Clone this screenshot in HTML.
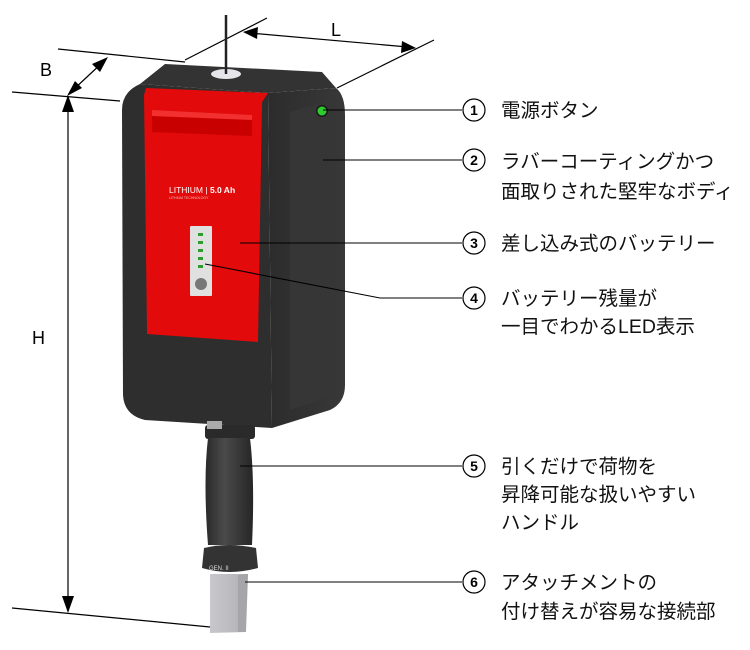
<!DOCTYPE html>
<html><head><meta charset="utf-8"><style>
html,body{margin:0;padding:0;background:#fff;}
svg{display:block}
text{font-family:"Liberation Sans","Noto Sans CJK JP",sans-serif;}
</style></head><body>
<svg width="750" height="650" viewBox="0 0 750 650" xmlns="http://www.w3.org/2000/svg">
<defs>
<linearGradient id="side" x1="0" x2="1"><stop offset="0" stop-color="#2c2c2c"/><stop offset="1" stop-color="#383838"/></linearGradient>
<linearGradient id="handle" x1="0" x2="1"><stop offset="0" stop-color="#2a2a2a"/><stop offset="0.4" stop-color="#4a4a4a"/><stop offset="1" stop-color="#262626"/></linearGradient>
<linearGradient id="conn" x1="0" x2="1"><stop offset="0" stop-color="#c8c8cc"/><stop offset="0.7" stop-color="#b8b8bc"/><stop offset="1" stop-color="#a0a0a4"/></linearGradient>
</defs>
<g stroke="#000" stroke-width="1.2" fill="none">
<line x1="58" y1="49" x2="185" y2="62"/>
<line x1="12" y1="92" x2="120" y2="101"/>
<line x1="185" y1="60" x2="267" y2="18"/>
<line x1="337" y1="88" x2="434" y2="40"/>
<line x1="12" y1="608" x2="210" y2="627"/>
<line x1="73" y1="90" x2="103" y2="62"/>
<line x1="250" y1="33" x2="408" y2="47"/>
<line x1="68" y1="112" x2="68" y2="598"/>
</g>
<g fill="#000">
<polygon points="68,95 62,112 74,112"/>
<polygon points="68,613 62,596 74,596"/>
<polygon points="67,96 75,81 82,88"/>
<polygon points="108,57 92,64 100,72"/>
<polygon points="243,32 258,27 257,39"/>
<polygon points="416,48 401,53 402,41"/>
</g>
<text x="40" y="76" font-size="18">B</text>
<text x="331" y="36" font-size="18">L</text>
<text x="32" y="344" font-size="18">H</text>
<polygon points="140,84 165,64 322,72 336,88 268,93" fill="#333"/>
<path d="M268,93 L336,88 Q345,95 345,115 L345,385 Q345,403 330,410 L272,428 Z" fill="url(#side)"/>
<path d="M140,84 L268,93 L272,428 L145,420 Q124,415 123,395 L122,110 Q122,92 140,84 Z" fill="#2e2e2e"/>
<path d="M290,112 L333,100 L333,395 L290,410 Z" fill="#363636"/>
<ellipse cx="226" cy="74" rx="15" ry="5" fill="#e6e6ea"/>
<line x1="226" y1="15" x2="226" y2="74" stroke="#222" stroke-width="2.5"/>
<polygon points="146,88 268,93 262,102 258,342 147,334 144,95" fill="#e20a0a"/>
<polygon points="152,110 252,115 252,136 152,132" fill="#c80000"/>
<polygon points="152,110 252,115 252,120 152,116" fill="#f23030"/>
<text x="169" y="193" font-size="8.5" fill="#fff">LITHIUM | <tspan font-weight="bold">5.0 Ah</tspan></text>
<text x="169" y="199" font-size="3.5" fill="#fbb">LITHIUM TECHNOLOGY</text>
<rect x="190" y="226" width="22" height="70" fill="#e0e0e0" rx="1"/>
<g fill="#2c9c2c"><rect x="198" y="233" width="5" height="3"/><rect x="198" y="241" width="5" height="3"/><rect x="198" y="249" width="5" height="3"/><rect x="198" y="257" width="5" height="3"/><rect x="198" y="265" width="5" height="3"/></g>
<circle cx="201" cy="284" r="6" fill="#777"/>
<circle cx="322" cy="111" r="6" fill="#1a1a1a"/>
<circle cx="322" cy="111" r="4.5" fill="#2ecc2e"/>
<rect x="205" y="425" width="50" height="14" rx="3" fill="#2a2a2a"/>
<rect x="207" y="421" width="15" height="8" fill="#aaa"/>
<path d="M208,438 L250,438 Q255,480 252,545 L208,545 Q203,480 208,438 Z" fill="url(#handle)"/>
<path d="M204,548 Q228,542 256,548 L258,568 Q230,576 202,568 Z" fill="#333"/>
<text x="209" y="570" font-size="6" fill="#ddd">GEN. II</text>
<polygon points="210,574 248,574 246,632 210,633" fill="url(#conn)"/>
<rect x="238" y="575" width="8" height="57" fill="#a6a6aa"/>
<g stroke="#000" stroke-width="1.1" fill="none">
<line x1="323" y1="110" x2="462" y2="110"/>
<line x1="323" y1="160" x2="462" y2="160"/>
<line x1="240" y1="243" x2="462" y2="243"/>
<polyline points="205,264 380,298 462,298"/>
<line x1="240" y1="466" x2="462" y2="466"/>
<line x1="245" y1="582" x2="462" y2="582"/>
</g>
<g stroke="#000" stroke-width="1.2" fill="#fff">
<circle cx="474" cy="110" r="11"/><circle cx="474" cy="160" r="11"/><circle cx="474" cy="243" r="11"/>
<circle cx="474" cy="298" r="11"/><circle cx="474" cy="466" r="11"/><circle cx="474" cy="582" r="11"/>
</g>
<g font-size="14" font-weight="bold" text-anchor="middle">
<text x="474" y="115">1</text><text x="474" y="165">2</text><text x="474" y="248">3</text>
<text x="474" y="303">4</text><text x="474" y="471">5</text><text x="474" y="587">6</text>
</g>
<g font-size="19.5" fill="#111">
<text x="501" y="117">電源ボタン</text>
<text x="501" y="168">ラバーコーティングかつ</text>
<text x="501" y="198">面取りされた堅牢なボディ</text>
<text x="501" y="250">差し込み式のバッテリー</text>
<text x="501" y="305">バッテリー残量が</text>
<text x="501" y="333">一目でわかるLED表示</text>
<text x="501" y="473">引くだけで荷物を</text>
<text x="501" y="501">昇降可能な扱いやすい</text>
<text x="501" y="529">ハンドル</text>
<text x="501" y="589">アタッチメントの</text>
<text x="501" y="618">付け替えが容易な接続部</text>
</g>
</svg>
</body></html>
